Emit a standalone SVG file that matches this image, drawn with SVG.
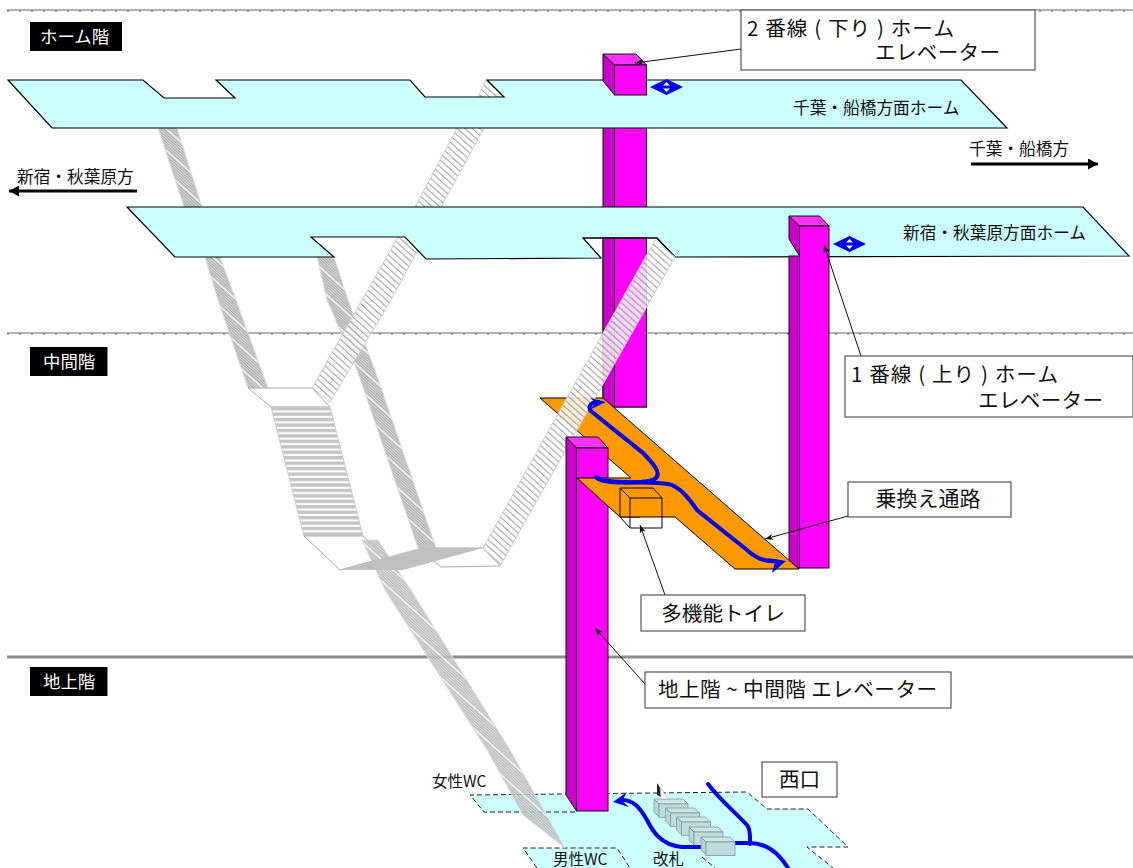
<svg xmlns="http://www.w3.org/2000/svg" width="1133" height="868" viewBox="0 0 1133 868">
<style>
text{font-family:"Noto Sans CJK JP","Noto Sans",sans-serif;fill:#111}
.lbl{fill:#fff;font-size:17.4px}
.plat{fill:#ccffff;stroke:#000;stroke-width:1.2}
.front{fill:#ff00ff;stroke:#111;stroke-width:1}
.side{fill:#cc00cc;stroke:#111;stroke-width:1}
.top{fill:#ff33ff;stroke:#111;stroke-width:1}
.box{fill:#fff;stroke:#555;stroke-width:1.2}
.lead{stroke:#111;stroke-width:1;fill:none;marker-end:url(#small)}
.dk{fill:url(#darkStair);stroke:#ddd;stroke-width:1}
.lt{fill:url(#lightStair);stroke:#ccc;stroke-width:1}
.land{fill:#fff;stroke:#aaa;stroke-width:1}
.blue{fill:none;stroke:#0000ee;stroke-width:4;stroke-linecap:round}
.bluefill{fill:#0000ee}
.dash{fill:none;stroke:#222;stroke-width:1;stroke-dasharray:5 3}
.gate{fill:#b7d7d7;stroke:#7f9a9a;stroke-width:.8}
.gatef{fill:#bfdcdc;stroke:#7f9a9a;stroke-width:.8}
.gatet{fill:#cfe5e5;stroke:#7f9a9a;stroke-width:.8}
.hole{fill:#fff}
</style>
<defs>
<pattern id="darkStair" width="6" height="16" patternUnits="userSpaceOnUse" patternTransform="rotate(42)">
<rect width="6" height="16" fill="#d2d2d2"/>
<rect y="0" width="6" height="1" fill="#f6f6f6"/>
<path d="M0 2.5H6M0 4.5H6M0 6.5H6M0 8.5H6M0 10.5H6M0 12.5H6M0 14.5H6" stroke="#a8a8a8" stroke-width=".8"/>
</pattern>
<pattern id="lightStair" width="6" height="5" patternUnits="userSpaceOnUse" patternTransform="rotate(42)">
<rect width="6" height="3.8" fill="#fff" fill-opacity=".85"/>
<rect y="3.8" width="6" height="1.2" fill="#a8a8a8"/>
</pattern>
<pattern id="flight" width="10" height="5.45" patternUnits="userSpaceOnUse" patternTransform="translate(0 407)">
<rect width="10" height="3.4" fill="#c4c4c4"/>
</pattern>
<marker id="small" markerWidth="9" markerHeight="7" refX="8" refY="3.5" orient="auto" markerUnits="userSpaceOnUse"><path d="M0 .5L8 3.5L0 6.5L2 3.5Z" fill="#111"/></marker>
<marker id="dir" markerWidth="12" markerHeight="11" refX="10" refY="5.5" orient="auto" markerUnits="userSpaceOnUse"><path d="M0 0L10 5.5L0 11Z" fill="#000"/></marker>
</defs>

<g id="floor-lines">
<path d="M7 10H1133M7 333H1133" stroke="#666" stroke-width="1"/>
<path d="M7 11H1133M7 334H1133" stroke="#555" stroke-width="1" stroke-dasharray="2 10"/>
<path d="M7 657H1133" stroke="#8c8c8c" stroke-width="3"/>
</g>

<g id="floor-labels">
<rect x="30" y="22" width="92" height="29" fill="#000"/><text class="lbl" x="40" y="42.5">ホーム階</text>
<rect x="30" y="347" width="77.5" height="29" fill="#000"/><text class="lbl" x="43" y="367.5">中間階</text>
<rect x="30" y="667" width="77.5" height="29" fill="#000"/><text class="lbl" x="43" y="687.5">地上階</text>
</g>

<g id="ground-floor">
<polygon points="470,795 747,792 767,809 808,809 848,847 807,847 833,868 537,868 523,848 563,848 523,813 484,813" fill="#ccffff"/>
<path class="dash" d="M575 812H484L470 795L747 792L767 809H808L848 847H807L833 868"/>
<path class="dash" d="M537 868L523 848H617L630 868M702 857L715 868"/>
<text x="432" y="787" font-size="15.5">女性WC</text>
<text x="553" y="865" font-size="15.5">男性WC</text>
<text x="653" y="865" font-size="15.5">改札</text>
</g>

<g id="stairs-back">
<polygon class="dk" points="158,128 177,128 202,207 220,257 236,300 268,388 248,388 218,300 205,257 184,207"/>
<polygon class="dk" points="317,257 334,257 348,300 375,370 436,548 418,548 357,370 327,300"/>
<polygon class="land" points="248,388 312,388 330,407 271,407"/>
<polygon class="lt" points="478,97 486,80 505,97 484,128 441,207 391,300 330,402 312,388 362,300 415,207 457,128"/>
<polygon fill="url(#flight)" stroke="#ccc" points="271,407 330,407 363,536 304,536"/>
<polygon class="land" points="304,536 363,536 387,557 340,570"/>
<polygon class="dk" fill-opacity=".85" points="362,540 378,540 411,590 510,750 565,848 523,815 487,750 385,590"/>
<polygon class="land" points="419,548 483,548 500,566 441,567"/>
<polygon fill="#c0c0c0" points="340,570 420,548 483,548 403,570"/>
</g>

<g id="elevator-2-shaft">
<rect class="side" x="603" y="120" width="11.5" height="287"/>
<rect class="front" x="614.5" y="120" width="32" height="287"/>
</g>

<g id="platform-chiba">
<polygon class="plat" points="8,80 143,80 164,98 235,98 216,80 410,80 425,97 504,97 487,80 961,80 1007,128 52,128"/>
<text x="793" y="114" font-size="16.7">千葉・船橋方面ホーム</text>
</g>

<g id="platform-shinjuku">
<polygon class="plat" points="127,207 1083,207 1129,256 675,257 657,238 583,238 601,258 426,259 405,237 311,237 334,257 175,257"/>
<text x="903" y="239" font-size="16.7">新宿・秋葉原方面ホーム</text>
</g>

<g id="shaft-notch">
<rect class="side" x="603" y="238" width="11.5" height="169"/>
<rect class="front" x="614.5" y="238" width="32" height="169"/>
<path d="M583 238H657L675 257" stroke="#000" stroke-width="1.2" fill="none"/>
</g>

<g id="elevator-2-head">
<polygon class="top" points="603,54 636,54 646.5,65 614.5,65"/>
<polygon class="side" points="603,54 614.5,65 614.5,95 603,81"/>
<rect class="front" x="614.5" y="65" width="32" height="30"/>
</g>

<g id="elevator-1">
<rect class="side" x="789" y="256" width="10.5" height="312"/>
<polygon class="top" points="789,216 819.5,216 829,226 799.5,226"/>
<polygon class="side" points="789,216 799.5,226 799.5,256 789,239"/>
<rect class="front" x="799.5" y="226" width="29.5" height="342"/>
</g>

<g id="transfer-passage">
<polygon fill="#ff9900" points="540,398 603,398 799,569 735,569 675,517 620,517 577,478 631,478"/>
<path d="M631 478L540 398L603 398L799 569H735L675 517H620" fill="none" stroke="#000" stroke-width="1"/>
</g>

<g id="stair-east">
<polygon class="lt" points="483,548 655,240 675,257 500,566"/>
</g>

<g id="elevator-mid">
<polygon class="top" points="566,437 598,437 608,448 576.5,448"/>
<polygon class="side" points="566,437 576.5,448 576.5,811 566,795"/>
<rect class="front" x="576.5" y="448" width="31.5" height="363"/>
</g>

<g id="transfer-front">
<polygon fill="#ff9900" points="577,478 631,478 640,517 620,517"/>
<path d="M577 478H631M577 478L620 517H640" fill="none" stroke="#000" stroke-width="1"/>
</g>

<g id="multipurpose-toilet">
<path fill="none" stroke="#000" stroke-width="1" d="M620 488H653L662 498H630L620 488V517L630 528H662V498M630 498V528"/>
</g>

<g id="gates">
<g id="gate-1"><polygon class="gatet" points="654,799 683,799 688,804 659,804"/><polygon class="gate" points="654,799 659,804 659,817 654,812"/><rect class="gatef" x="659" y="804" width="29" height="13.5"/></g>
<g id="gate-2"><polygon class="gatet" points="665.5,808 694.5,808 699.5,813 670.5,813"/><polygon class="gate" points="665.5,808 670.5,813 670.5,826 665.5,821"/><rect class="gatef" x="670.5" y="813" width="29" height="13.5"/></g>
<g id="gate-3"><polygon class="gatet" points="676.5,817 705.5,817 710.5,822 681.5,822"/><polygon class="gate" points="676.5,817 681.5,822 681.5,835 676.5,830"/><rect class="gatef" x="681.5" y="822" width="29" height="13.5"/></g>
<g id="gate-4"><polygon class="gatet" points="689,827 718,827 723,832 694,832"/><polygon class="gate" points="689,827 694,832 694,845 689,840"/><rect class="gatef" x="694" y="832" width="29" height="13.5"/></g>
<polygon points="657,783 661,789 661,797 657,795" fill="#222"/>
<polygon points="660,787 668,799 661,799" fill="#fff" stroke="#aaa" stroke-width=".6"/>
</g>

<g id="connectors">
<path class="blue" d="M596 477C604 485 640 483 653 480C662 476 658 468 643 453C625 438 605 423 590 410C588 405 592 402 598 402"/>
<polygon class="bluefill" points="606,402 590,398 596,403 589,410"/>
<path class="blue" d="M596 477C604 485 650 481 668 484C680 486 690 500 697 510L747 550C756 558 764 562 776 561"/>
<polygon class="bluefill" points="786,561 768,558 775,562 772,573"/>
<path class="blue" d="M708 784C720 800 735 812 747 825C751 830 750 838 750 844"/>
<path class="blue" d="M735 843H750C766 843 778 852 788 868"/>
<path class="blue" d="M702 847H682C660 845 652 830 647 820C640 808 634 800 622 800"/>
<polygon class="bluefill" points="613,802 627,792 622,801 629,807"/>
<path d="M137 191H9" stroke="#000" stroke-width="3" marker-end="url(#dir)"/>
<path d="M971 164H1098" stroke="#000" stroke-width="3" marker-end="url(#dir)"/>
<path class="lead" d="M741 49L635 63"/>
<path class="lead" d="M861 356L824 245"/>
<path class="lead" d="M848 516L765 539"/>
<path class="lead" d="M665 595L640 525"/>
<path class="lead" d="M645 684L595 628"/>
<g id="door-arrow-1"><polygon class="bluefill" points="650,87 666.5,79 683,87 666.5,95"/><polygon class="hole" points="663,85.5 670,85.5 666.5,82"/><polygon class="hole" points="663,88.5 670,88.5 666.5,92"/></g>
<g id="door-arrow-2"><polygon class="bluefill" points="833,244 849.5,236 866,244 849.5,252"/><polygon class="hole" points="846,242.5 853,242.5 849.5,239"/><polygon class="hole" points="846,245.5 853,245.5 849.5,249"/></g>
</g>

<g id="gate-5"><polygon class="gatet" points="701,837 730,837 735,842 706,842"/><polygon class="gate" points="701,837 706,842 706,855 701,850"/><rect class="gatef" x="706" y="842" width="29" height="13.5"/></g>

<g id="direction-labels">
<text x="17" y="183" font-size="16.7">新宿・秋葉原方</text>
<text x="969" y="155" font-size="16.7">千葉・船橋方</text>
</g>

<g id="callout-2"><rect class="box" x="741" y="10" width="294" height="60"/>
<text x="747" y="35.5" font-size="20.6" textLength="207">2 番線 ( 下り ) ホーム</text>
<text x="875" y="60" font-size="20.6" textLength="125">エレベーター</text></g>
<g id="callout-1"><rect class="box" x="845" y="356" width="288" height="61"/>
<text x="851" y="381.5" font-size="20.6" textLength="207">1 番線 ( 上り ) ホーム</text>
<text x="978" y="407.5" font-size="20.6" textLength="125">エレベーター</text></g>
<g id="callout-transfer"><rect class="box" x="848" y="482" width="163" height="35"/>
<text x="928" y="505.5" font-size="21" text-anchor="middle">乗換え通路</text></g>
<g id="callout-toilet"><rect class="box" x="641" y="595" width="164" height="36"/>
<text x="723" y="620.5" font-size="20.6" text-anchor="middle">多機能トイレ</text></g>
<g id="callout-ground"><rect class="box" x="645" y="672" width="306" height="36"/>
<text x="658" y="697" font-size="20.6" textLength="279">地上階 ~ 中間階 エレベーター</text></g>
<g id="callout-west"><rect class="box" x="762" y="762" width="75" height="35"/>
<text x="799.5" y="787" font-size="20.6" text-anchor="middle">西口</text></g>
</svg>
